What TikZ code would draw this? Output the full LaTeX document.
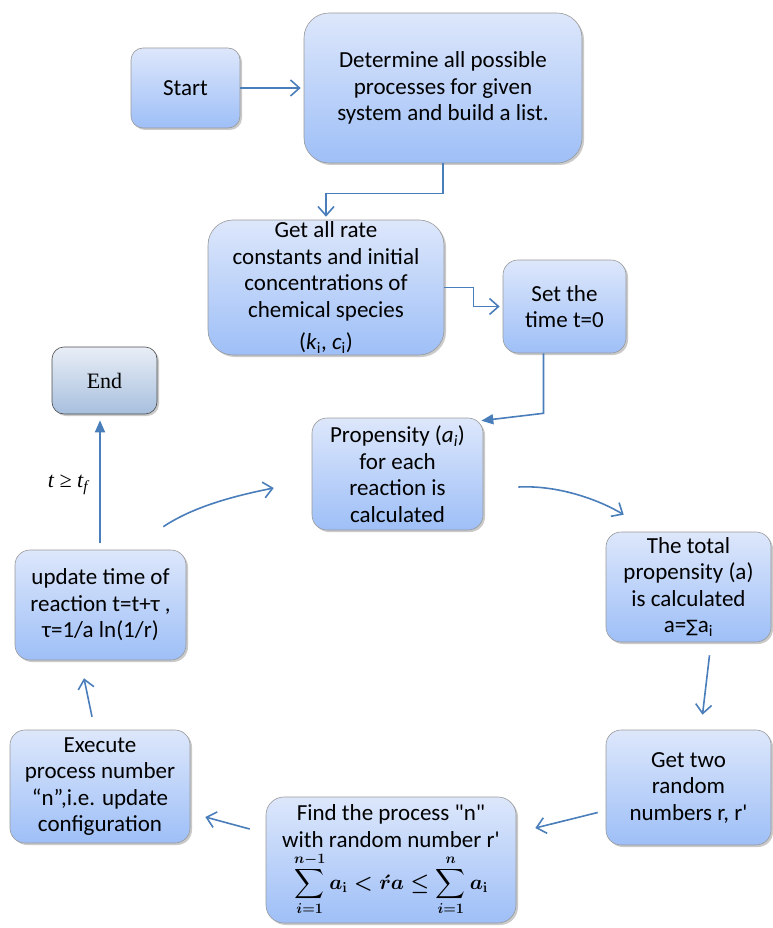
\documentclass[tikz,border=0pt]{standalone}
\usepackage{fontspec}
\usepackage{amsmath}
\setmainfont{Carlito}
\newfontfamily\serifont{Liberation Serif}
\newfontfamily\dvs{DejaVu Sans}
\usetikzlibrary{arrows.meta,shadows,calc}
\definecolor{boxtop}{HTML}{DDE7FB}
\definecolor{boxbot}{HTML}{9EBFF7}
\definecolor{endtop}{HTML}{E9EEF6}
\definecolor{endbot}{HTML}{A7BFDE}
\definecolor{arrowblue}{HTML}{4A7EBB}
\tikzset{
 box/.style={draw=gray!80, line width=0.6pt, top color=boxtop, bottom color=boxbot, rounded corners=14pt, align=center, inner sep=0pt, font=\fontsize{23}{26.5}\selectfont, drop shadow={shadow xshift=2pt, shadow yshift=-2pt, fill=gray!70, opacity=0.6}},
 endbox/.style={box, draw=black!70, top color=endtop, bottom color=endbot, font=\serifont\fontsize{22}{26}\selectfont},
 arr/.style={draw=arrowblue, line width=1.6pt, -{Straight Barb[length=9pt,width=16pt]}},
 farr/.style={draw=arrowblue, line width=1.6pt, -{Triangle[length=12pt,width=10pt]}},
 condlabel/.style={font=\serifont\itshape\fontsize{22}{26}\selectfont, inner sep=0pt},
}
\begin{document}
\begin{tikzpicture}[x=1pt,y=-1pt]
\useasboundingbox (0,0) rectangle (772,928);
\node[box, minimum width=109pt, minimum height=80pt, rounded corners=12pt] (start) at (185.5,88) {Start};
\node[box, minimum width=278pt, minimum height=150pt, rounded corners=25pt] (det) at (443,88) {Determine all possible\\processes for given\\system and build a list.};
\node[box, minimum width=236pt, minimum height=135pt, rounded corners=25pt] (rate) at (326,287.5) {Get all rate\\constants and initial\\concentrations of\\chemical species\\[6pt](\textit{k}\textsubscript{i}, \textit{c}\textsubscript{i})};
\node[box, minimum width=123pt, minimum height=93pt, rounded corners=15pt] (set) at (564.5,306.5) {Set the\\time t=0};
\node[endbox, minimum width=105pt, minimum height=67pt, rounded corners=12pt] (end) at (104.5,380.5) {End};
\node[box, minimum width=171pt, minimum height=112pt, rounded corners=15pt] (prop) at (397.5,474) {Propensity (\textit{a\textsubscript{i}})\\for each\\reaction is\\calculated};
\node[box, minimum width=165pt, minimum height=110pt, rounded corners=15pt] (total) at (688.5,587) {The total\\propensity (a)\\is calculated\\a={\dvs\fontsize{17}{20}\selectfont ∑}a\textsubscript{i}};
\node[box, minimum width=165pt, minimum height=115pt, rounded corners=15pt] (two) at (688.5,787.5) {Get two\\random\\numbers r, r\textquotesingle};
\node[box, minimum width=250pt, minimum height=126pt, rounded corners=18pt] (find) at (391,860) {Find the process \textquotedbl n\textquotedbl\\[1pt]with random number r\textquotesingle\\[3pt]{\fontsize{20}{24}\selectfont\boldmath$\displaystyle\sum_{i=1}^{n-1} a_{\mathbf{i}} < \acute{r}a \le \sum_{i=1}^{n} a_{\mathbf{i}}$}};
\node[box, minimum width=180pt, minimum height=113pt, rounded corners=15pt] (exec) at (100,786.5) {Execute\\process number\\“n”,i.e. update\\configuration};
\node[box, minimum width=171pt, minimum height=110pt, rounded corners=15pt] (upd) at (100.5,605) {update time of\\reaction t=t+τ ,\\τ=1/a ln(1/r)};
\node[condlabel] (cond) at (68,485) {t ≥ t\textsubscript{f}};

\draw[arr, shorten >=3pt] (start.east) -- (det.west);
\draw[arr, shorten >=3pt] (det.south) -- ++(0,30) -| (rate.north);
\draw[arr, shorten >=3pt] (rate.east) -- ++(29,0) |- (set.west);
\draw[farr] ($(set.south)+(-21,0)$) -- ++(0,60) -- ($(prop.north east)+(-2,3)$);
\draw[arr] ($(prop.east)+(35,13)$) .. controls +(40,-2) and +(-25,-15) .. ($(total.north west)+(18,-17)$);
\draw[arr] ($(total.south)+(21,13)$) -- ($(two.north)+(14,-15)$);
\draw[arr] ($(two.west)+(-8,25)$) -- ($(find.east)+(19,-32)$);
\draw[arr] ($(find.west)+(-16,-31)$) -- ($(exec.east)+(15,30.5)$);
\draw[arr] ($(exec.north)+(-8,-13)$) -- ($(upd.south)+(-16.5,18)$);
\draw[farr] ($(upd.north)+(-0.5,-7)$) -- ($(end.south)+(-4.5,6)$);
\draw[arr] ($(upd.north east)+(-23,-23)$) .. controls +(30,-20) and +(-40,8) .. ($(prop.west)+(-38,14)$);
\end{tikzpicture}
\end{document}
